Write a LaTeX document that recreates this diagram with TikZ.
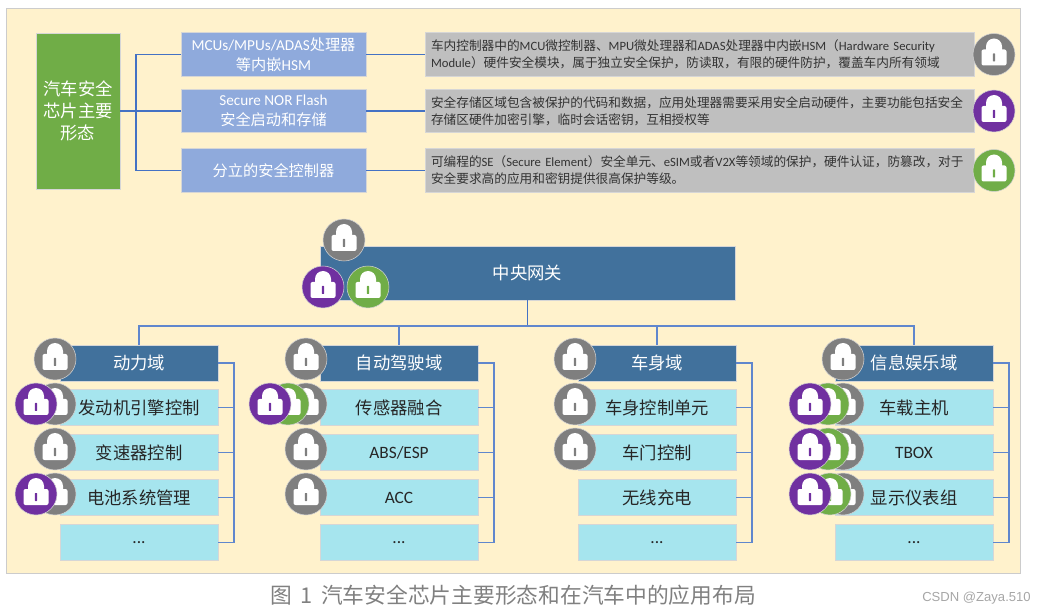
\documentclass[tikz,border=0pt]{standalone}
\usepackage{fontspec}
\setmainfont{Noto Sans CJK SC}
\newfontfamily\la{Carlito}
\newfontfamily\mk{Liberation Sans}
\usepackage{xcolor}
\definecolor{panelbg}{HTML}{FFF2CC}
\definecolor{chipgreen}{HTML}{70AD47}
\definecolor{formblue}{HTML}{8FAADC}
\definecolor{notegray}{HTML}{BFBFBF}
\definecolor{hdrblue}{HTML}{41719C}
\definecolor{subcyan}{HTML}{A6E5EE}
\definecolor{lkgray}{HTML}{7F7F7F}
\definecolor{lkpurple}{HTML}{7030A0}
\definecolor{linkblue}{HTML}{4472C4}
\usetikzlibrary{arrows.meta}
\begin{document}
\begin{tikzpicture}[x=0.75pt,y=-0.75pt,font=\normalsize,
   edge/.style={draw=black!16,line width=0.5pt,inner sep=0pt,align=center},
   chip/.style={edge,fill=chipgreen,text=white,font=\fontsize{13}{16.5}\selectfont,minimum width=63pt,minimum height=117pt},
   form/.style={edge,fill=formblue,text=white,font=\fontsize{11.4}{15}\selectfont,minimum width=138.75pt,minimum height=32.5pt},
   note/.style={edge,fill=notegray,text=black!80,font=\fontsize{9.5}{12.6}\selectfont,text width=402.75pt,inner xsep=4.5pt,align=left,minimum height=32.5pt},
   hdr/.style={edge,fill=hdrblue,text=white,font=\fontsize{13}{16}\selectfont},
   sub/.style={edge,fill=subcyan,text=black!85,font=\fontsize{13}{16}\selectfont,minimum width=118.5pt,minimum height=27pt},
   link/.style={draw=linkblue,line width=1.3pt},
   linkthin/.style={draw=linkblue!85,line width=1pt}]
\useasboundingbox (0,0) rectangle (1046,616);
\fill[panelbg,draw=black!20,line width=0.5pt] (6.5,8) rectangle (1020,573);
% one padlock: disc, shackle, body, keyhole
\newcommand{\lck}[3]{\begin{scope}[shift={(#1,#2)}]
  \fill[#3,draw=black!18,line width=0.4pt] (0,0) circle[radius=21];
  \fill[white] (-8,-3) -- (-8,-8) arc[start angle=180,end angle=360,radius=8] -- (8,-3) -- cycle;
  \fill[white,rounded corners=1.5pt] (-12.5,-5) rectangle (12.5,11);
  \fill[#3,rounded corners=0.5pt] (-1.2,-1) rectangle (1.2,7);
\end{scope}}
% one domain column: left edge, id, title, three named rows
\newcommand{\dmn}[4]{
  \node[hdr,minimum width=118.5pt,minimum height=27pt] (dm#2) at (#1+79,363) {#3};
  \foreach \s [count=\k from 1] in {#4}{
    \node[sub] (sb#2\k) at (#1+79,363+45*\k-0.5) {\s};}
  \node[sub] (sb#24) at (#1+79,542.5) {{\la ...}};
  \draw[linkthin] (dm#2.east) -- ++(15.5,0) coordinate (tr#2) |- (sb#24.east);
  \foreach \k in {1,2,3}{\draw[linkthin] (sb#2\k.east) -- (sb#2\k.east -| tr#2);}
}
% upper block
\node[chip] (chip) at (78,111) {汽车安全\\芯片主要\\形态};
\node[form] (fma) at (273.5,54.5) {{\la MCUs/MPUs/ADAS}处理器\\等内嵌{\la HSM}};
\node[form] (fmb) at (273.5,111) {{\la Secure NOR Flash}\\安全启动和存储};
\node[form] (fmc) at (273.5,170.5) {分立的安全控制器};
\node[note] (nta) at (699.5,54.5) {车内控制器中的{\la MCU}微控制器、{\la MPU}微处理器和{\la ADAS}处理器中内嵌{\la HSM}（{\la Hardware Security}\\{\la Module}）硬件安全模块，属于独立安全保护，防读取，有限的硬件防护，覆盖车内所有领域};
\node[note] (ntb) at (699.5,111) {安全存储区域包含被保护的代码和数据，应用处理器需要采用安全启动硬件，主要功能包括安全\\存储区硬件加密引擎，临时会话密钥，互相授权等};
\node[note] (ntc) at (699.5,170.5) {可编程的{\la SE}（{\la Secure Element}）安全单元、{\la eSIM}或者{\la V2X}等领域的保护，硬件认证，防篡改，对于\\安全要求高的应用和密钥提供很高保护等级。};
\draw[link] (chip.east) -- (fmb.west);
\draw[link] (fma.west) -- ++(-45,0) coordinate (trunk) |- (fmc.west);
\foreach \f/\n in {fma/nta,fmb/ntb,fmc/ntc}{\draw[link] (\f.east) -- (\n.west);}
% gateway and the four domains
\node[hdr,minimum width=311.25pt,minimum height=40.5pt] (gw) at (527.5,273) {中央网关};
\dmn{60}{a}{动力域}{发动机引擎控制,变速器控制,电池系统管理}
\dmn{320}{b}{自动驾驶域}{传感器融合,{\la ABS/ESP},{\la ACC}}
\dmn{578}{c}{车身域}{车身控制单元,车门控制,无线充电}
\dmn{835}{d}{信息娱乐域}{车载主机,{\la TBOX},显示仪表组}
\draw[link] (gw.south) -- ++(0,25.5) coordinate (bus);
\draw[linkthin,line width=1.1pt] (dma.north) |- (bus) -| (dmd.north);
\draw[linkthin,line width=1.1pt] (dmb.north) -- (dmb.north |- bus);
\draw[linkthin,line width=1.1pt] (dmc.north) -- (dmc.north |- bus);
% padlocks, back to front
\foreach \px/\py/\col in {994/54.5/lkgray,994/111/lkpurple,994/170.5/chipgreen,
   344/240/lkgray,323/287/lkpurple,368/287/chipgreen,
   55/359/lkgray,55/404/lkgray,36/404/lkpurple,55/449/lkgray,55/494/lkgray,36/494/lkpurple,
   306/359/lkgray,306/404/lkgray,288/404/chipgreen,270/404/lkpurple,306/449/lkgray,306/494/lkgray,
   575/359/lkgray,575/404/lkgray,575/449/lkgray,
   843/359/lkgray,843/404/lkgray,828/404/chipgreen,810/404/lkpurple,
   843/449/lkgray,828/449/chipgreen,810/449/lkpurple,
   843/494/lkgray,830/494/chipgreen,810/494/lkpurple}{\lck{\px}{\py}{\col}}
% caption and mark
\node[text=black!50,font=\fontsize{16.3}{18}\selectfont,inner sep=0pt] (cap) at (513,595) {图\hspace{0.4em}1\hspace{0.4em}汽车安全芯片主要形态和在汽车中的应用布局};
\node[text=black!35,font=\mk\fontsize{9.8}{11}\selectfont,inner sep=0pt] (mark) at (976.5,598.5) {CSDN @Zaya.510};
\end{tikzpicture}
\end{document}
